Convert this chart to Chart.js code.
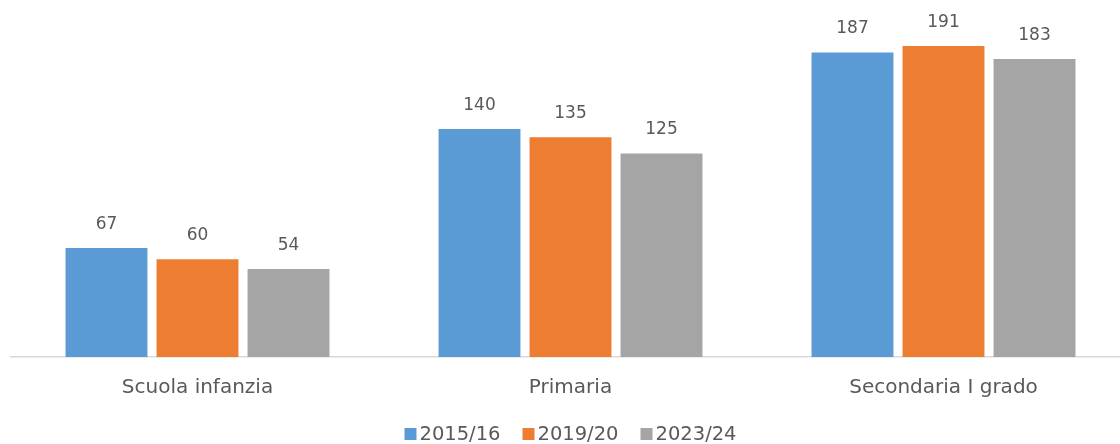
<!DOCTYPE html>
<html>
<head>
<meta charset="utf-8">
<script src="https://cdn.jsdelivr.net/npm/chart.js@4.4.1/dist/chart.umd.min.js"></script>
<style>
    html, body { margin: 0; padding: 0; background: #fff; overflow: hidden; }
    #wrap { position: relative; width: 1132px; height: 444px; }
</style>
</head>
<body>
<div id="wrap"><canvas id="chart"></canvas></div>
<script>
// --- DATA ---
const categories = ["Scuola infanzia", "Primaria", "Secondaria I grado"];
const seriesNames = ["2015/16", "2019/20", "2023/24"];
const values2015 = [67, 140, 187];
const values2019 = [60, 135, 191];
const values2023 = [54, 125, 183];
const seriesColors = ["#5b9bd5", "#ed7d31", "#a5a5a5"];

const FONT = "'DejaVu Sans', sans-serif";
const TEXT = "#595959";

// value labels above each bar
const barLabels = {
    id: "barLabels",
    afterDatasetsDraw(chart) {
        const ctx = chart.ctx;
        ctx.save();
        ctx.font = "17px " + FONT;
        ctx.fillStyle = TEXT;
        ctx.textAlign = "center";
        ctx.textBaseline = "bottom";
        chart.data.datasets.forEach((ds, i) => {
            chart.getDatasetMeta(i).data.forEach((bar, j) => {
                ctx.fillText(ds.data[j], bar.x, bar.y - 15);
            });
        });
        ctx.restore();
    }
};

// compact legend, square swatch right next to the text (like the office style)
const compactLegend = {
    id: "compactLegend",
    afterDraw(chart) {
        const ctx = chart.ctx;
        const box = 12, gap = 3, itemGap = 22;
        const y = 434;
        ctx.save();
        ctx.font = "19.5px " + FONT;
        ctx.textBaseline = "middle";
        const items = chart.data.datasets.map(ds => ({
            text: ds.label, color: ds.backgroundColor, w: ctx.measureText(ds.label).width
        }));
        const total = items.reduce((a, it) => a + box + gap + it.w, 0) + itemGap * (items.length - 1);
        let x = (chart.chartArea.left + chart.chartArea.right) / 2 - total / 2;
        items.forEach(it => {
            ctx.fillStyle = it.color;
            ctx.fillRect(x, y - box / 2, box, box);
            x += box + gap;
            ctx.fillStyle = TEXT;
            ctx.textAlign = "left";
            ctx.fillText(it.text, x, y + 1);
            x += it.w + itemGap;
        });
        ctx.restore();
    }
};

new Chart(document.getElementById("chart"), {
    type: "bar",
    data: {
        labels: categories,
        datasets: [
            { label: seriesNames[0], data: values2015, backgroundColor: seriesColors[0] },
            { label: seriesNames[1], data: values2019, backgroundColor: seriesColors[1] },
            { label: seriesNames[2], data: values2023, backgroundColor: seriesColors[2] }
        ]
    },
    options: {
        responsive: true,
        maintainAspectRatio: false,
        animation: false,
        layout: { padding: { left: 11, right: 2, top: 15, bottom: 33 } },
        datasets: { bar: { barPercentage: 0.9, categoryPercentage: 0.732 } },
        scales: {
            x: {
                grid: { display: false },
                border: { color: "#d9d9d9", width: 1.5 },
                ticks: { color: TEXT, font: { family: FONT, size: 20 }, padding: 11 }
            },
            y: { display: false, min: 0, max: 210 }
        },
        plugins: {
            tooltip: { enabled: false },
            legend: { display: false }
        }
    },
    plugins: [barLabels, compactLegend]
});
</script>
</body>
</html>
